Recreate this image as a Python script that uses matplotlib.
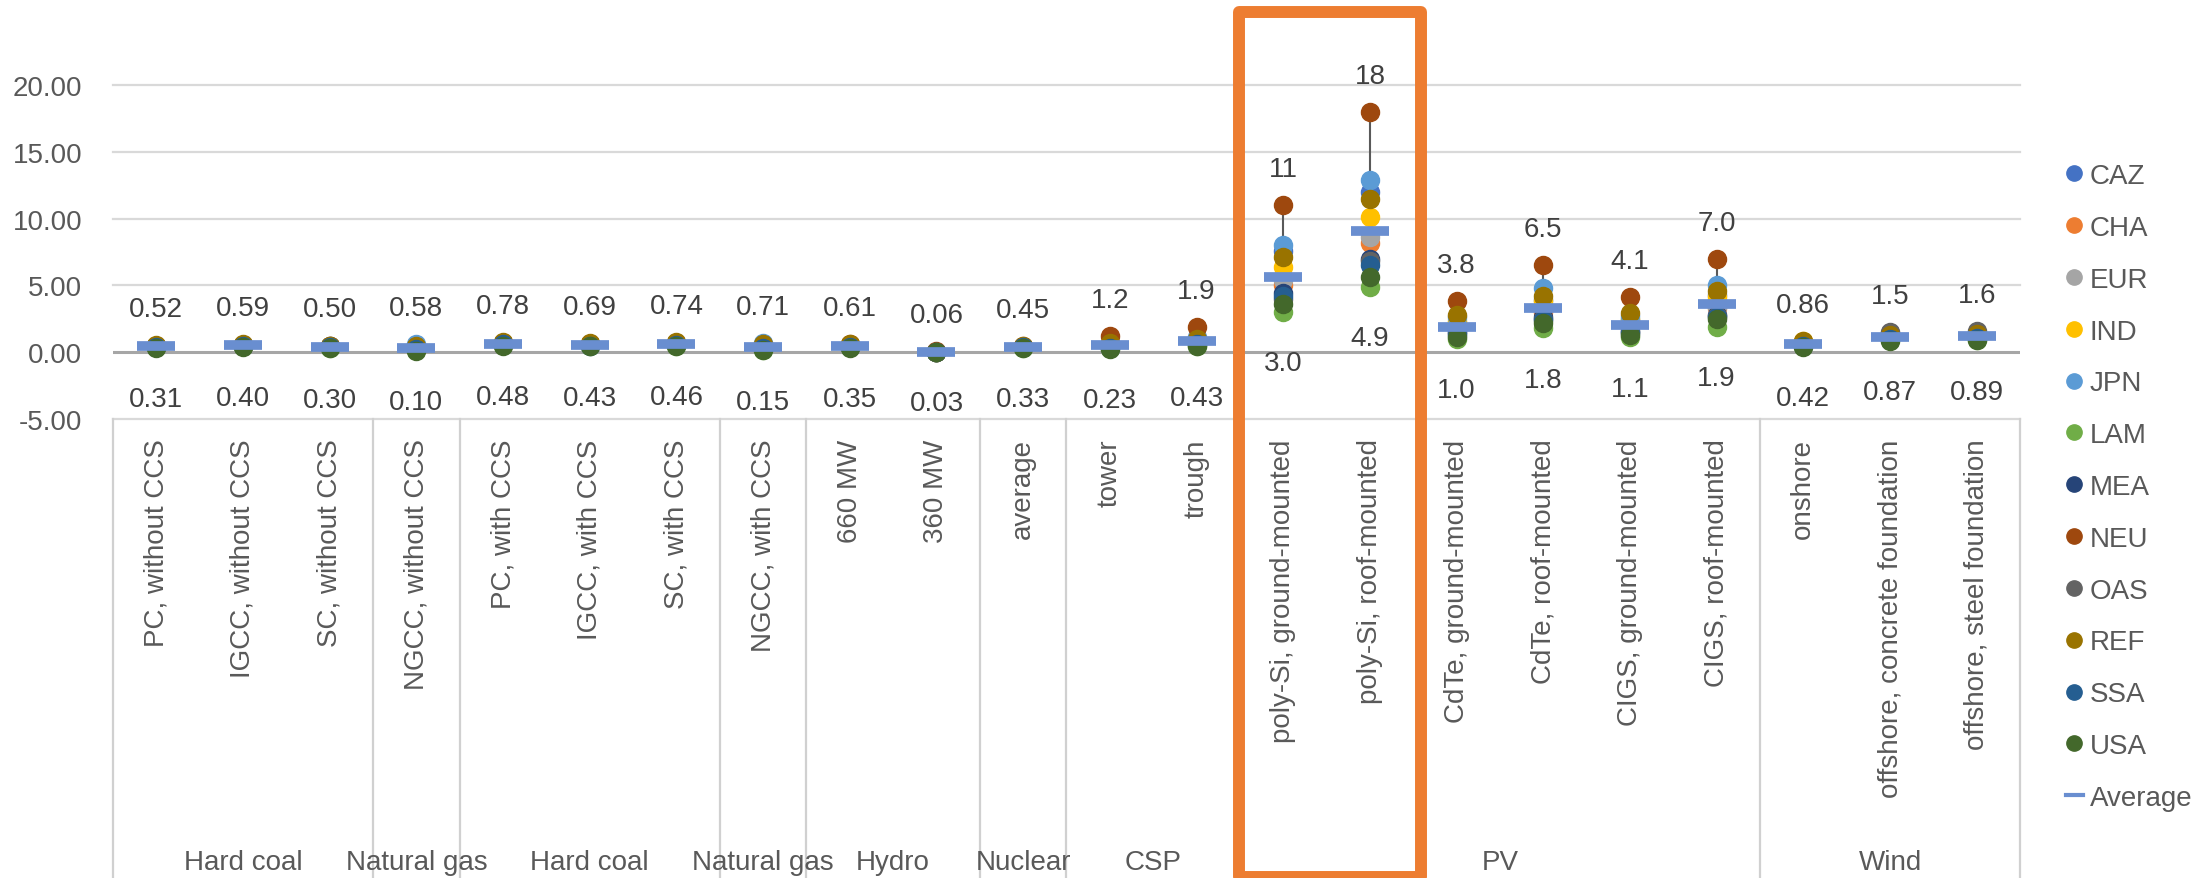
import numpy as np
import matplotlib
matplotlib.use("Agg")
import matplotlib.pyplot as plt
from matplotlib.lines import Line2D
from matplotlib.patches import Rectangle

plt.rcParams['font.family'] = ['Liberation Sans', 'DejaVu Sans']

# categories (x axis) and their groups
categories = ["PC, without CCS", "IGCC, without CCS", "SC, without CCS", "NGCC, without CCS",
              "PC, with CCS", "IGCC, with CCS", "SC, with CCS", "NGCC, with CCS",
              "660 MW", "360 MW", "average", "tower", "trough",
              "poly-Si, ground-mounted", "poly-Si, roof-mounted",
              "CdTe, ground-mounted", "CdTe, roof-mounted",
              "CIGS, ground-mounted", "CIGS, roof-mounted",
              "onshore", "offshore, concrete foundation", "offshore, steel foundation"]
groups = ["Hard coal", "Natural gas", "Hard coal", "Natural gas", "Hydro", "Nuclear", "CSP", "PV", "Wind"]
group_sizes = [3, 1, 3, 1, 2, 1, 2, 6, 3]

# region values
CAZ = [0.45, 0.50, 0.42, 0.40, 0.66, 0.58, 0.62, 0.50, 0.48, 0.05, 0.40, 0.60, 0.95, 7.6, 12.0, 2.2, 3.9, 2.4, 4.3, 0.65, 1.20, 1.25]
CHA = [0.40, 0.48, 0.38, 0.30, 0.60, 0.52, 0.56, 0.40, 0.45, 0.04, 0.38, 0.50, 0.80, 5.0, 8.2, 1.7, 3.0, 1.8, 3.3, 0.60, 1.10, 1.15]
EUR = [0.42, 0.50, 0.40, 0.35, 0.62, 0.55, 0.58, 0.45, 0.40, 0.04, 0.36, 0.45, 0.75, 5.4, 8.6, 1.8, 3.2, 1.9, 3.4, 0.55, 1.05, 1.10]
IND = [0.48, 0.55, 0.46, 0.42, 0.72, 0.64, 0.68, 0.55, 0.55, 0.05, 0.42, 0.55, 0.90, 6.4, 10.1, 2.3, 3.8, 2.5, 4.1, 0.86, 1.25, 1.30]
JPN = [0.44, 0.52, 0.43, 0.58, 0.70, 0.62, 0.66, 0.71, 0.50, 0.05, 0.41, 0.70, 1.10, 8.0, 12.9, 2.6, 4.8, 2.7, 5.0, 0.70, 1.35, 1.40]
LAM = [0.36, 0.44, 0.34, 0.15, 0.52, 0.46, 0.50, 0.20, 0.38, 0.03, 0.34, 0.28, 0.50, 3.0, 4.9, 1.0, 1.8, 1.1, 1.9, 0.45, 0.90, 0.92]
MEA = [0.47, 0.53, 0.45, 0.30, 0.68, 0.60, 0.64, 0.38, 0.46, 0.04, 0.39, 0.40, 0.70, 4.4, 7.0, 1.5, 2.6, 1.6, 2.8, 0.55, 1.10, 1.15]
NEU = [0.46, 0.54, 0.44, 0.36, 0.69, 0.61, 0.65, 0.42, 0.61, 0.06, 0.43, 1.20, 1.90, 11.0, 18.0, 3.8, 6.5, 4.1, 7.0, 0.75, 1.40, 1.45]
OAS = [0.43, 0.51, 0.41, 0.28, 0.64, 0.57, 0.60, 0.35, 0.44, 0.04, 0.37, 0.38, 0.65, 4.0, 6.8, 1.4, 2.5, 1.5, 2.7, 0.60, 1.50, 1.60]
REF = [0.52, 0.59, 0.50, 0.45, 0.78, 0.69, 0.74, 0.60, 0.58, 0.05, 0.45, 0.65, 1.00, 7.1, 11.5, 2.8, 4.2, 2.9, 4.6, 0.80, 1.30, 1.35]
SSA = [0.41, 0.47, 0.39, 0.25, 0.58, 0.50, 0.54, 0.30, 0.42, 0.04, 0.36, 0.35, 0.60, 4.2, 6.5, 1.3, 2.4, 1.4, 2.6, 0.50, 1.00, 1.05]
USA = [0.31, 0.40, 0.30, 0.10, 0.48, 0.43, 0.46, 0.15, 0.35, 0.03, 0.33, 0.23, 0.43, 3.6, 5.6, 1.1, 2.2, 1.3, 2.5, 0.42, 0.87, 0.89]
average = [0.43, 0.51, 0.41, 0.35, 0.64, 0.57, 0.60, 0.42, 0.47, 0.04, 0.39, 0.55, 0.85, 5.6, 9.1, 1.9, 3.3, 2.0, 3.6, 0.60, 1.15, 1.20]

regions = ["CAZ", "CHA", "EUR", "IND", "JPN", "LAM", "MEA", "NEU", "OAS", "REF", "SSA", "USA"]
region_values = [CAZ, CHA, EUR, IND, JPN, LAM, MEA, NEU, OAS, REF, SSA, USA]
colors = ["#4472C4", "#ED7D31", "#A5A5A5", "#FFC000", "#5B9BD5", "#70AD47",
          "#264478", "#9E480E", "#636363", "#997300", "#255E91", "#43682B"]
avg_color = "#698ED0"
txt_color = "#595959"


def fmt(v):
    if v >= 10:
        return "%.0f" % v
    if v >= 1:
        return "%.1f" % v
    return "%.2f" % v


fig = plt.figure(figsize=(22.06, 8.79), dpi=100)
ax = fig.add_axes([0.0512, 0.5222, 0.8645, 0.3800])
x = np.arange(len(categories))
ax.set_xlim(-0.5, len(categories) - 0.5)
ax.set_ylim(-5, 20)

# gridlines
for t in [-5, 5, 10, 15, 20]:
    ax.axhline(t, color="#D9D9D9", lw=1.6, clip_on=False, zorder=0)
ax.axhline(0, color="#A6A6A6", lw=2.2, zorder=1)
for s in ax.spines.values():
    s.set_visible(False)

ax.set_yticks([-5, 0, 5, 10, 15, 20])
ax.set_yticklabels(["%.2f" % t for t in [-5, 0, 5, 10, 15, 20]])
ax.tick_params(axis="y", length=0, pad=22, labelsize=20, labelcolor=txt_color)

ax.set_xticks(x)
ax.set_xticklabels(categories, rotation=90, va="top", ha="center")
ax.tick_params(axis="x", length=0, pad=14, labelsize=20, labelcolor=txt_color)

# high-low lines
vals = np.array(region_values)
maxs = vals.max(axis=0)
mins = vals.min(axis=0)
ax.vlines(x, mins, maxs, color="#595959", lw=1.5, zorder=2)

for name, v, c in zip(regions, region_values, colors):
    ax.plot(x, v, "o", color=c, ms=13, ls="", zorder=3, clip_on=False)
ax.plot(x, average, "_", color=avg_color, ms=28, mew=7, ls="", zorder=4)

for i in x:
    ax.annotate(fmt(maxs[i]), (i, maxs[i]), xytext=(0, 26), textcoords="offset points",
                ha="center", va="center", fontsize=20, color="#404040", annotation_clip=False)
    ax.annotate(fmt(mins[i]), (i, mins[i]), xytext=(0, -37), textcoords="offset points",
                ha="center", va="center", fontsize=20, color="#404040", annotation_clip=False)

# group boxes and labels under the axis
bounds = np.concatenate([[0], np.cumsum(group_sizes)])
trans = ax.get_xaxis_transform()
for b in bounds:
    ax.plot([b - 0.5, b - 0.5], [0, -1.45], transform=trans, clip_on=False,
            color="#D0D0D0", lw=1.6)
for g, a, b in zip(groups, bounds[:-1], bounds[1:]):
    ax.text((a + b - 1) / 2, -1.326, g, transform=trans, ha="center", va="center",
            fontsize=20, color=txt_color)

# legend
handles = [Line2D([], [], marker="o", color=c, ls="", ms=11) for c in colors]
handles.append(Line2D([], [], color=avg_color, lw=3))
leg = fig.legend(handles, regions + ["Average"], loc="upper left",
                 bbox_to_anchor=(2066 / 2206, 1 - 164 / 879), frameon=False,
                 fontsize=20, handlelength=0.6, handletextpad=0.25, labelspacing=0.93,
                 borderpad=0, borderaxespad=0)
for t in leg.get_texts():
    t.set_color(txt_color)

# orange highlight box
fig.patches.append(Rectangle((1239 / 2206, 1 - 878 / 879), (1421 - 1239) / 2206, (878 - 13) / 879,
                             transform=fig.transFigure, fill=False, ec="#ED7D31", lw=8.6,
                             joinstyle="round", zorder=10))

fig.savefig("out.png", dpi=100)
